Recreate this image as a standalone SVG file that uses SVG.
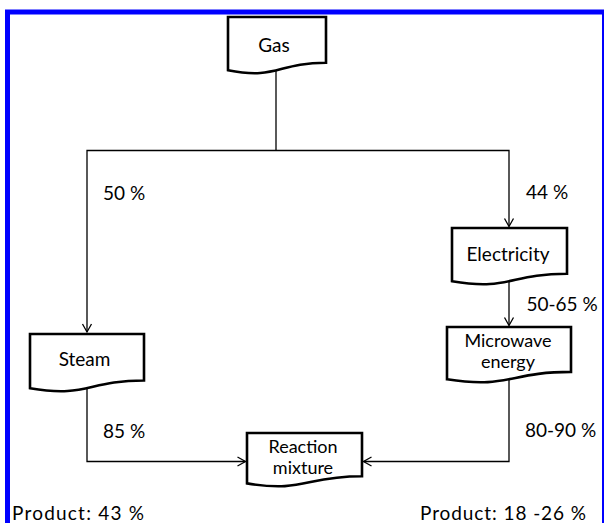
<svg xmlns="http://www.w3.org/2000/svg" width="604" height="523" viewBox="0 0 604 523">
<style>
.doc{fill:#fff;stroke:#000;stroke-width:2.6;stroke-linejoin:miter}
.t{font-family:Lato,"Liberation Sans",sans-serif;font-size:19px;fill:#000}
.t2{font-size:18px}
.c{text-anchor:middle}
.ln{fill:none;stroke:#000;stroke-width:1.3}
</style>
<defs>
<marker id="arr" markerUnits="userSpaceOnUse" markerWidth="12" markerHeight="12" viewBox="-10 -6 12 12" refX="0" refY="0" orient="auto">
<path d="M-8,-4.5 L0,0 L-8,4.5" fill="none" stroke="#000" stroke-width="1.3"/>
</marker>
</defs>
<rect x="0" y="0" width="604" height="523" fill="#fff"/>
<rect x="7.5" y="12" width="597" height="530" fill="none" stroke="#0000ff" stroke-width="5"/>
<g id="connectors">
<path class="ln" d="M276,71 V150.5"/>
<path class="ln" d="M276,150.5 H87 V332" marker-end="url(#arr)"/>
<path class="ln" d="M276,150.5 H509 V226.5" marker-end="url(#arr)"/>
<path class="ln" d="M509,281 V325.5" marker-end="url(#arr)"/>
<path class="ln" d="M87,388 V461.5 H245.5" marker-end="url(#arr)"/>
<path class="ln" d="M509,380 V461.5 H363.5" marker-end="url(#arr)"/>
</g>
<g id="labels">
<text class="t" x="103" y="200">50 %</text>
<text class="t" x="526" y="199">44 %</text>
<text class="t" x="526.5" y="310.5">50-65 %</text>
<text class="t" x="103" y="438">85 %</text>
<text class="t" x="525" y="437">80-90 %</text>
<text class="t" x="12" y="520" textLength="132" lengthAdjust="spacing">Product: 43 %</text>
<text class="t" x="420" y="520" textLength="166" lengthAdjust="spacing">Product: 18 -26 %</text>
</g>
<g id="gas">
<path class="doc" d="M228,17 H326 V62.7 C277,62.7 277,80.1 228,70.2 Z"/>
<text class="t c" x="274" y="51.5">Gas</text>
</g>
<g id="electricity">
<path class="doc" d="M452,228 H567 V273.7 C509.5,273.7 509.5,291.1 452,281.2 Z"/>
<text class="t c" x="508" y="260.5">Electricity</text>
</g>
<g id="microwave">
<path class="doc" d="M447,327 H571 V371.9 C509,371.9 509,389 447,379.3 Z"/>
<text class="t t2 c" x="508" y="346.5"><tspan x="508">Microwave</tspan><tspan x="508" dy="21.7">energy</tspan></text>
</g>
<g id="steam">
<path class="doc" d="M30,334 H144 V380.5 C87,380.5 87,398.2 30,388.2 Z"/>
<text class="t c" x="84.5" y="365.5">Steam</text>
</g>
<g id="reaction">
<path class="doc" d="M247,433 H362 V476.3 C304.5,476.3 304.5,492.8 247,483.4 Z"/>
<text class="t t2 c" x="303" y="452.5"><tspan x="303">Reaction</tspan><tspan x="303" dy="21.7">mixture</tspan></text>
</g>
</svg>
